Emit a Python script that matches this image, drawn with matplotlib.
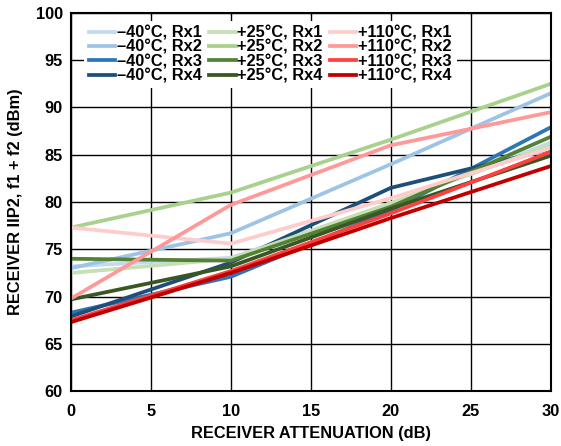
import numpy as np
import matplotlib.pyplot as plt

plt.rcParams['font.family'] = ['Liberation Sans', 'DejaVu Sans']
plt.rcParams['font.weight'] = 'bold'

# receiver attenuation (dB)
atten = [0, 10, 20, 30]

# IIP2 (dBm) per temperature / receiver
m40_rx1 = [73.2, 74.1, 79.8, 86.3]
m40_rx2 = [73.0, 76.7, 84.0, 91.5]
m40_rx3 = [68.3, 72.1, 79.1, 87.9]
m40_rx4 = [67.9, 73.6, 81.5, 85.6]

p25_rx1 = [72.5, 74.0, 79.9, 86.0]
p25_rx2 = [77.3, 81.0, 86.6, 92.5]
p25_rx3 = [74.0, 73.8, 79.5, 86.9]
p25_rx4 = [69.7, 73.2, 79.3, 84.9]

p110_rx1 = [77.3, 75.6, 80.4, 85.7]
p110_rx2 = [69.8, 79.7, 86.0, 89.5]
p110_rx3 = [67.5, 72.7, 78.8, 85.3]
p110_rx4 = [67.3, 72.5, 78.3, 83.8]

labels = ['–40°C, Rx1', '–40°C, Rx2', '–40°C, Rx3', '–40°C, Rx4',
          '+25°C, Rx1', '+25°C, Rx2', '+25°C, Rx3', '+25°C, Rx4',
          '+110°C, Rx1', '+110°C, Rx2', '+110°C, Rx3', '+110°C, Rx4']
series = [m40_rx1, m40_rx2, m40_rx3, m40_rx4,
          p25_rx1, p25_rx2, p25_rx3, p25_rx4,
          p110_rx1, p110_rx2, p110_rx3, p110_rx4]
colors = ['#c5daf0', '#9dc3e6', '#2e75b6', '#1f4e79',
          '#c5e0b4', '#a9d18e', '#548235', '#385723',
          '#ffcccc', '#ff9999', '#ff4040', '#c00000']

fig = plt.figure(figsize=(5.61, 4.46), dpi=100)
ax = fig.add_axes([0.1266, 0.123, 0.855, 0.848])

for y, lab, c in zip(series, labels, colors):
    ax.plot(atten, y, color=c, lw=2.7, label=lab)

ax.set_xlim(0, 30)
ax.set_ylim(60, 100)
ax.set_xticks(np.arange(0, 31, 5))
ax.set_yticks(np.arange(60, 101, 5))
ax.grid(True, color='black', lw=1.0)
ax.set_axisbelow(True)
ax.tick_params(length=0, labelsize=11.8)
ax.tick_params(axis='x', pad=9.5)
ax.tick_params(axis='y', pad=6)
for s in ax.spines.values():
    s.set_linewidth(1.5)

ax.set_xlabel('RECEIVER ATTENUATION (dB)', fontsize=11.8, fontweight='bold', labelpad=5)
ax.set_ylabel('RECEIVER IIP2, f1 + f2 (dBm)', fontsize=11.8, fontweight='bold', labelpad=9)

leg = ax.legend(ncol=3, loc='upper left', fontsize=11.8, frameon=True, fancybox=False,
                edgecolor='white', framealpha=1, handlelength=1.6, handletextpad=0.1,
                columnspacing=0.45, labelspacing=-0.05, borderpad=0.3,
                borderaxespad=0.4, bbox_to_anchor=(0.014, 0.997))
leg.get_frame().set_linewidth(0)

fig.savefig('out.png', dpi=100)
